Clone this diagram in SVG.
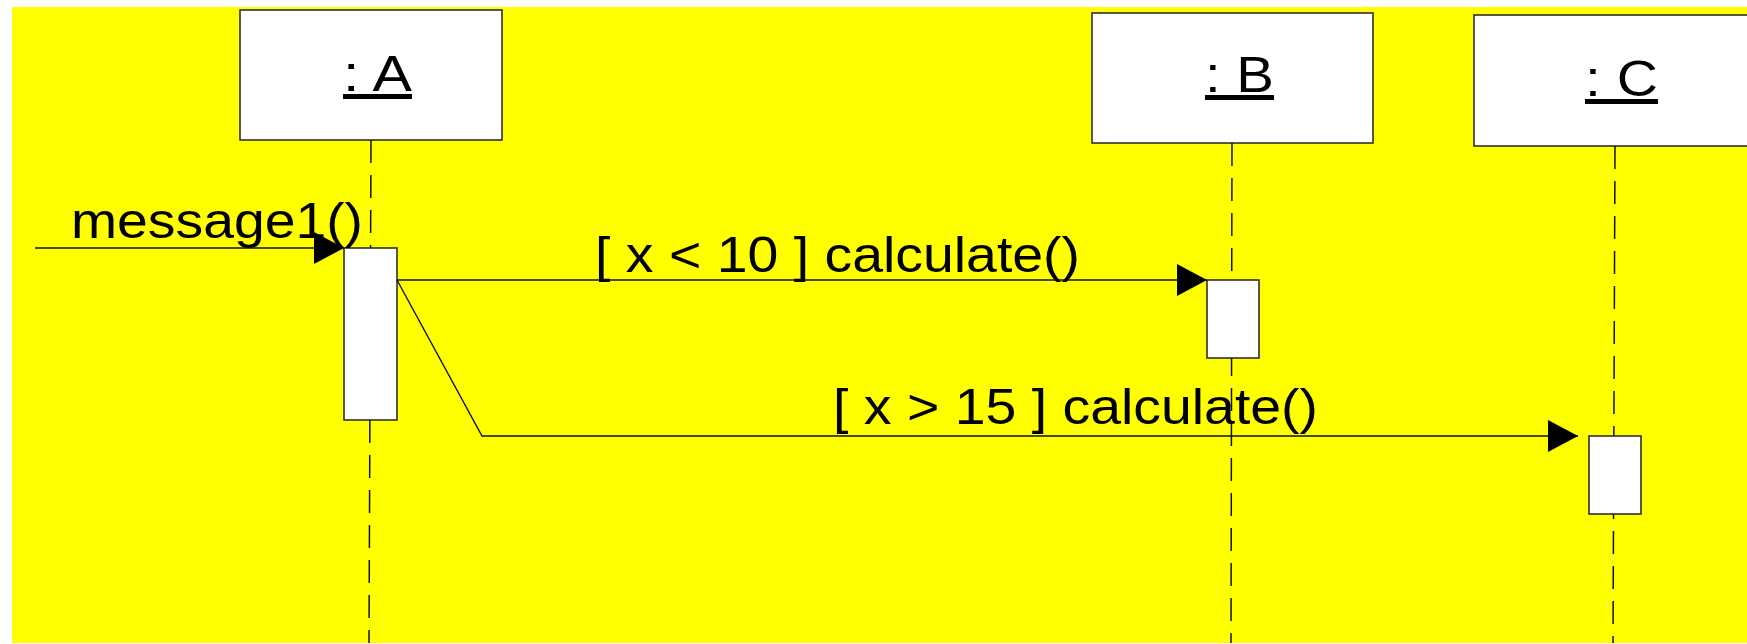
<svg xmlns="http://www.w3.org/2000/svg" width="1747" height="644" viewBox="0 0 1747 644">
  <defs>
    <style>
      .bg { fill: #FFFF00; }
      .box { fill: #FFFFFF; stroke: #222; stroke-width: 1.5; }
      .life { stroke: #111; stroke-width: 1.5; stroke-dasharray: 23 12; fill: none; }
      .act { fill: #FFFFFF; stroke: #222; stroke-width: 1.5; }
      .msg { stroke: #111; stroke-width: 1.4; fill: none; }
      .t { font-family: "Liberation Sans", Arial, Helvetica, sans-serif; font-size: 50px; fill: #000; }
      .u { text-decoration: underline; }
    </style>
    <marker id="arrow" viewBox="0 0 30 32" refX="30" refY="16" markerWidth="30" markerHeight="32" markerUnits="userSpaceOnUse" orient="auto">
      <path d="M0,0 L30,16 L0,32 Z" fill="#000"/>
    </marker>
  </defs>

  <rect class="bg" x="12" y="7" width="1735" height="636"/>

  <g id="node-A">
    <rect class="box" x="240" y="10" width="262" height="130"/>
    <text class="t u" x="343" y="91" textLength="69" lengthAdjust="spacingAndGlyphs">: A</text>
    <line class="life" x1="371" y1="140" x2="369" y2="643"/>
    <rect class="act" x="344" y="248" width="53" height="172"/>
  </g>

  <g id="node-B">
    <rect class="box" x="1092" y="13" width="281" height="130"/>
    <text class="t u" x="1205" y="92" textLength="69" lengthAdjust="spacingAndGlyphs">: B</text>
    <line class="life" x1="1232" y1="143" x2="1231" y2="643"/>
    <rect class="act" x="1207" y="280" width="52" height="78"/>
  </g>

  <g id="node-C">
    <rect class="box" x="1474" y="15" width="282" height="131"/>
    <text class="t u" x="1585" y="96" textLength="73" lengthAdjust="spacingAndGlyphs">: C</text>
    <line class="life" x1="1615" y1="146" x2="1613" y2="643"/>
    <rect class="act" x="1589" y="436" width="52" height="78"/>
  </g>

  <g id="connectors">
    <g id="msg-message1">
      <line class="msg" x1="35" y1="248" x2="344" y2="248" marker-end="url(#arrow)"/>
      <text class="t" x="71" y="238" textLength="292" lengthAdjust="spacingAndGlyphs">message1()</text>
    </g>
    <g id="msg-calc-B">
      <line class="msg" x1="397" y1="280" x2="1207" y2="280" marker-end="url(#arrow)"/>
      <text class="t" x="595" y="272" textLength="485" lengthAdjust="spacingAndGlyphs">[ x &lt; 10 ] calculate()</text>
    </g>
    <g id="msg-calc-C">
      <polyline class="msg" points="397,280 482,436 1578,436" marker-end="url(#arrow)"/>
      <text class="t" x="833" y="424" textLength="485" lengthAdjust="spacingAndGlyphs">[ x &gt; 15 ] calculate()</text>
    </g>
  </g>
</svg>
